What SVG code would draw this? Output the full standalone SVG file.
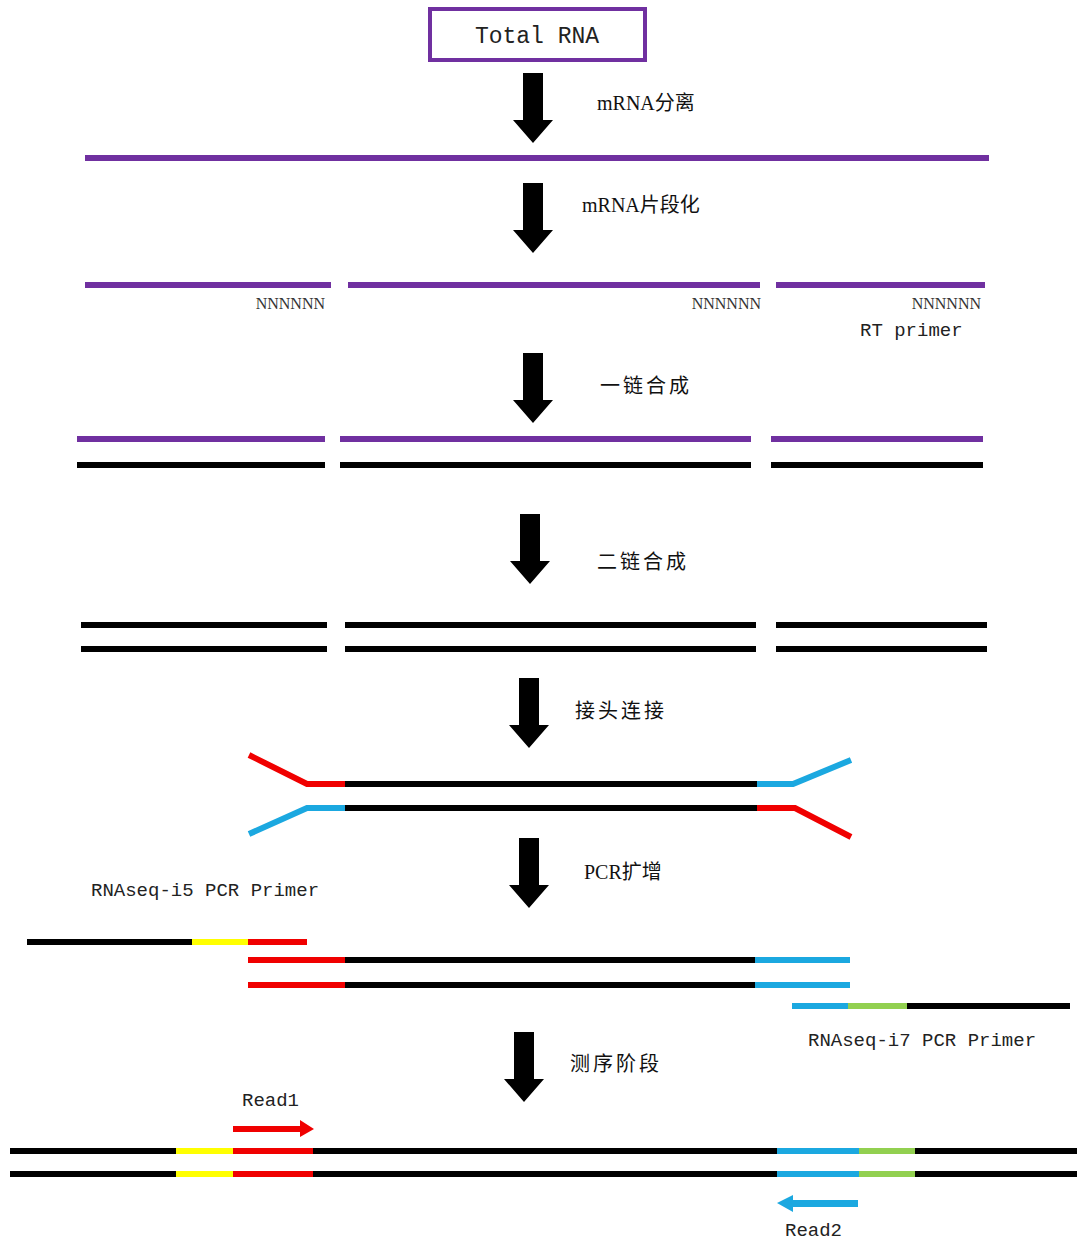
<svg xmlns="http://www.w3.org/2000/svg" width="1077" height="1243" viewBox="0 0 1077 1243">
<style>
.mono{font-family:"Liberation Mono","DejaVu Sans Mono",monospace;fill:#222}
.cjk{font-family:"Liberation Serif","Noto Sans CJK SC",serif;font-size:20px;fill:#111}
.nn{font-family:"Liberation Serif",serif;font-size:16px;fill:#333;text-anchor:end}
.s{stroke-width:6;fill:none;stroke-linecap:butt}
.pu{stroke:#7030A0}
.bk{stroke:#000}
.rd{stroke:#F00000}
.bl{stroke:#1BA8E0}
.gr{stroke:#92D050}
.ye{stroke:#FFFF00}
</style>
<defs>
<path id="arr" d="M-10,0 H10 V47 H20 L0,70 L-20,47 H-10 Z" fill="#000"/>
</defs>
<rect width="1077" height="1243" fill="#fff"/>

<g id="total-rna">
<rect x="430" y="9" width="215" height="51" fill="#fff" stroke="#7030A0" stroke-width="4"/>
<text class="mono" x="537" y="43" font-size="23" text-anchor="middle">Total RNA</text>
</g>

<g id="connectors">
<use href="#arr" x="533" y="73"/>
<use href="#arr" x="533" y="183"/>
<use href="#arr" x="533" y="353"/>
<use href="#arr" x="530" y="514"/>
<use href="#arr" x="529" y="678"/>
<use href="#arr" x="529" y="838"/>
<use href="#arr" x="524" y="1032"/>
</g>

<g id="labels">
<text class="cjk" x="597" y="110">mRNA分离</text>
<text class="cjk" x="582" y="212">mRNA片段化</text>
<text class="cjk" x="600" y="393" letter-spacing="3">一链合成</text>
<text class="cjk" x="597" y="569" letter-spacing="3">二链合成</text>
<text class="cjk" x="575" y="718" letter-spacing="3">接头连接</text>
<text class="cjk" x="584" y="879">PCR扩增</text>
<text class="cjk" x="570" y="1071" letter-spacing="3">测序阶段</text>
</g>

<g id="mrna">
<line class="s pu" x1="85" y1="158" x2="989" y2="158" stroke-width="7"/>
</g>

<g id="fragments">
<line class="s pu" x1="85" y1="285" x2="331" y2="285"/>
<line class="s pu" x1="348" y1="285" x2="760" y2="285"/>
<line class="s pu" x1="776" y1="285" x2="985" y2="285"/>
<text class="nn" x="325" y="309">NNNNNN</text>
<text class="nn" x="761" y="309">NNNNNN</text>
<text class="nn" x="981" y="309">NNNNNN</text>
<text class="mono" x="860" y="336" font-size="19">RT primer</text>
</g>

<g id="first-strand">
<line class="s pu" x1="77" y1="439" x2="325" y2="439"/>
<line class="s pu" x1="340" y1="439" x2="751" y2="439"/>
<line class="s pu" x1="771" y1="439" x2="983" y2="439"/>
<line class="s bk" x1="77" y1="465" x2="325" y2="465"/>
<line class="s bk" x1="340" y1="465" x2="751" y2="465"/>
<line class="s bk" x1="771" y1="465" x2="983" y2="465"/>
</g>

<g id="second-strand">
<line class="s bk" x1="81" y1="625" x2="327" y2="625"/>
<line class="s bk" x1="345" y1="625" x2="756" y2="625"/>
<line class="s bk" x1="776" y1="625" x2="987" y2="625"/>
<line class="s bk" x1="81" y1="649" x2="327" y2="649"/>
<line class="s bk" x1="345" y1="649" x2="756" y2="649"/>
<line class="s bk" x1="776" y1="649" x2="987" y2="649"/>
</g>

<g id="adapter-ligation">
<polyline class="s rd" points="249,755 307,784 345,784"/>
<line class="s bk" x1="345" y1="784" x2="757" y2="784"/>
<polyline class="s bl" points="757,784 793,784 851,760"/>
<polyline class="s bl" points="345,808 307,808 249,834"/>
<line class="s bk" x1="345" y1="808" x2="757" y2="808"/>
<polyline class="s rd" points="757,808 795,808 851,837"/>
</g>

<g id="pcr">
<text class="mono" x="91" y="896" font-size="19">RNAseq-i5 PCR Primer</text>
<line class="s bk" x1="27" y1="942" x2="192" y2="942"/>
<line class="s ye" x1="192" y1="942" x2="248" y2="942"/>
<line class="s rd" x1="248" y1="942" x2="307" y2="942"/>
<line class="s rd" x1="248" y1="960" x2="345" y2="960"/>
<line class="s bk" x1="345" y1="960" x2="755" y2="960"/>
<line class="s bl" x1="755" y1="960" x2="850" y2="960"/>
<line class="s rd" x1="248" y1="985" x2="345" y2="985"/>
<line class="s bk" x1="345" y1="985" x2="755" y2="985"/>
<line class="s bl" x1="755" y1="985" x2="850" y2="985"/>
<line class="s bl" x1="792" y1="1006" x2="848" y2="1006"/>
<line class="s gr" x1="848" y1="1006" x2="907" y2="1006"/>
<line class="s bk" x1="907" y1="1006" x2="1070" y2="1006"/>
<text class="mono" x="808" y="1046" font-size="19">RNAseq-i7 PCR Primer</text>
</g>

<g id="sequencing">
<line class="s bk" x1="10" y1="1151" x2="176" y2="1151"/>
<line class="s ye" x1="176" y1="1151" x2="233" y2="1151"/>
<line class="s rd" x1="233" y1="1151" x2="313" y2="1151"/>
<line class="s bk" x1="313" y1="1151" x2="777" y2="1151"/>
<line class="s bl" x1="777" y1="1151" x2="859" y2="1151"/>
<line class="s gr" x1="859" y1="1151" x2="915" y2="1151"/>
<line class="s bk" x1="915" y1="1151" x2="1077" y2="1151"/>
<line class="s bk" x1="10" y1="1174" x2="176" y2="1174"/>
<line class="s ye" x1="176" y1="1174" x2="233" y2="1174"/>
<line class="s rd" x1="233" y1="1174" x2="313" y2="1174"/>
<line class="s bk" x1="313" y1="1174" x2="777" y2="1174"/>
<line class="s bl" x1="777" y1="1174" x2="859" y2="1174"/>
<line class="s gr" x1="859" y1="1174" x2="915" y2="1174"/>
<line class="s bk" x1="915" y1="1174" x2="1077" y2="1174"/>
</g>

<g id="read1">
<path d="M233,1126 H300 V1120 L314,1129 L300,1137 V1132 H233 Z" fill="#F00000"/>
<text class="mono" x="242" y="1106" font-size="19">Read1</text>
</g>

<g id="read2">
<path d="M858,1200 H793 V1195 L777,1203 L793,1212 V1207 H858 Z" fill="#1BA8E0"/>
<text class="mono" x="785" y="1236" font-size="19">Read2</text>
</g>
</svg>
